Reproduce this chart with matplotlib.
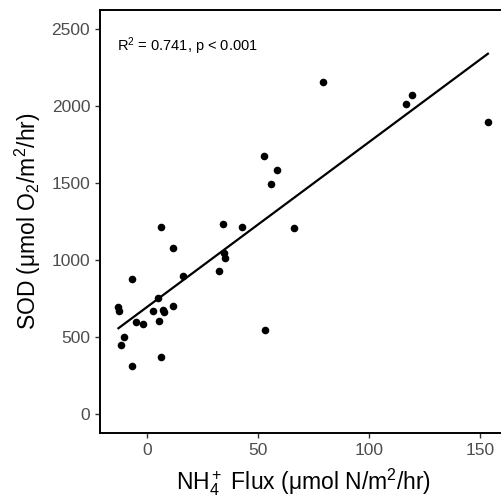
import numpy as np
import matplotlib
matplotlib.use('Agg')
from matplotlib import pyplot as plt

plt.rcParams['font.family'] = ['Liberation Sans', 'DejaVu Sans']
plt.rcParams['mathtext.fontset'] = 'custom'
plt.rcParams['mathtext.rm'] = 'Liberation Sans'
plt.rcParams['mathtext.it'] = 'Liberation Sans:italic'

# NH4+ flux (umol N/m2/hr) vs sediment oxygen demand (umol O2/m2/hr)
nh4_flux = [79.3, 116.7, 119.4, 153.7, 53.0, 58.7, 56.1, 6.3, 34.3, 42.7,
            66.2, 12.0, 35.0, 35.4, 32.7, -6.5, 16.5, -12.8, -12.5, 5.2,
            3.0, 7.5, 7.9, 11.6, -5.1, -1.8, 5.7, -10.1, -11.6, 6.5,
            -6.8, 53.1]
sod = [2152, 2015, 2073, 1893, 1675, 1583, 1493, 1213, 1230, 1215,
       1205, 1077, 1045, 1009, 929, 875, 897, 693, 665, 751,
       669, 675, 658, 701, 594, 585, 606, 497, 450, 370,
       312, 546]
x_ticks = [0, 50, 100, 150]
y_ticks = [0, 500, 1000, 1500, 2000, 2500]
stats_label = r'R$^2$ = 0.741, p < 0.001'

x = np.array(nh4_flux)
y = np.array(sod)
slope, icpt = np.polyfit(x, y, 1)
xl = np.array([x.min(), x.max()])

fig = plt.figure(figsize=(5.02, 5.03), dpi=100)
ax = fig.add_axes([0.1992, 0.139, 0.8094, 0.842])

ax.scatter(x, y, s=30, color='black', zorder=3, linewidths=0)
ax.plot(xl, icpt + slope * xl, color='black', lw=1.6, zorder=2)

ax.text(-13.4, 2385, stats_label, fontsize=10.5, color='black', ha='left', va='center')

ax.set_xlim(-21.1, 162.0)
ax.set_ylim(-125, 2625)
ax.set_xticks(x_ticks)
ax.set_yticks(y_ticks)
ax.tick_params(labelsize=12.5, labelcolor='#4D4D4D', color='#333333',
               length=3.6, width=1.0)

for s in ax.spines.values():
    s.set_linewidth(1.4)
    s.set_color('black')

ax.set_xlabel('NH$_4^+$ Flux (μmol N/m$^2$/hr)', fontsize=16.5, labelpad=6)
ax.set_ylabel('SOD (μmol O$_2$/m$^2$/hr)', fontsize=16.5, labelpad=6)

fig.savefig('out.png', dpi=100)
